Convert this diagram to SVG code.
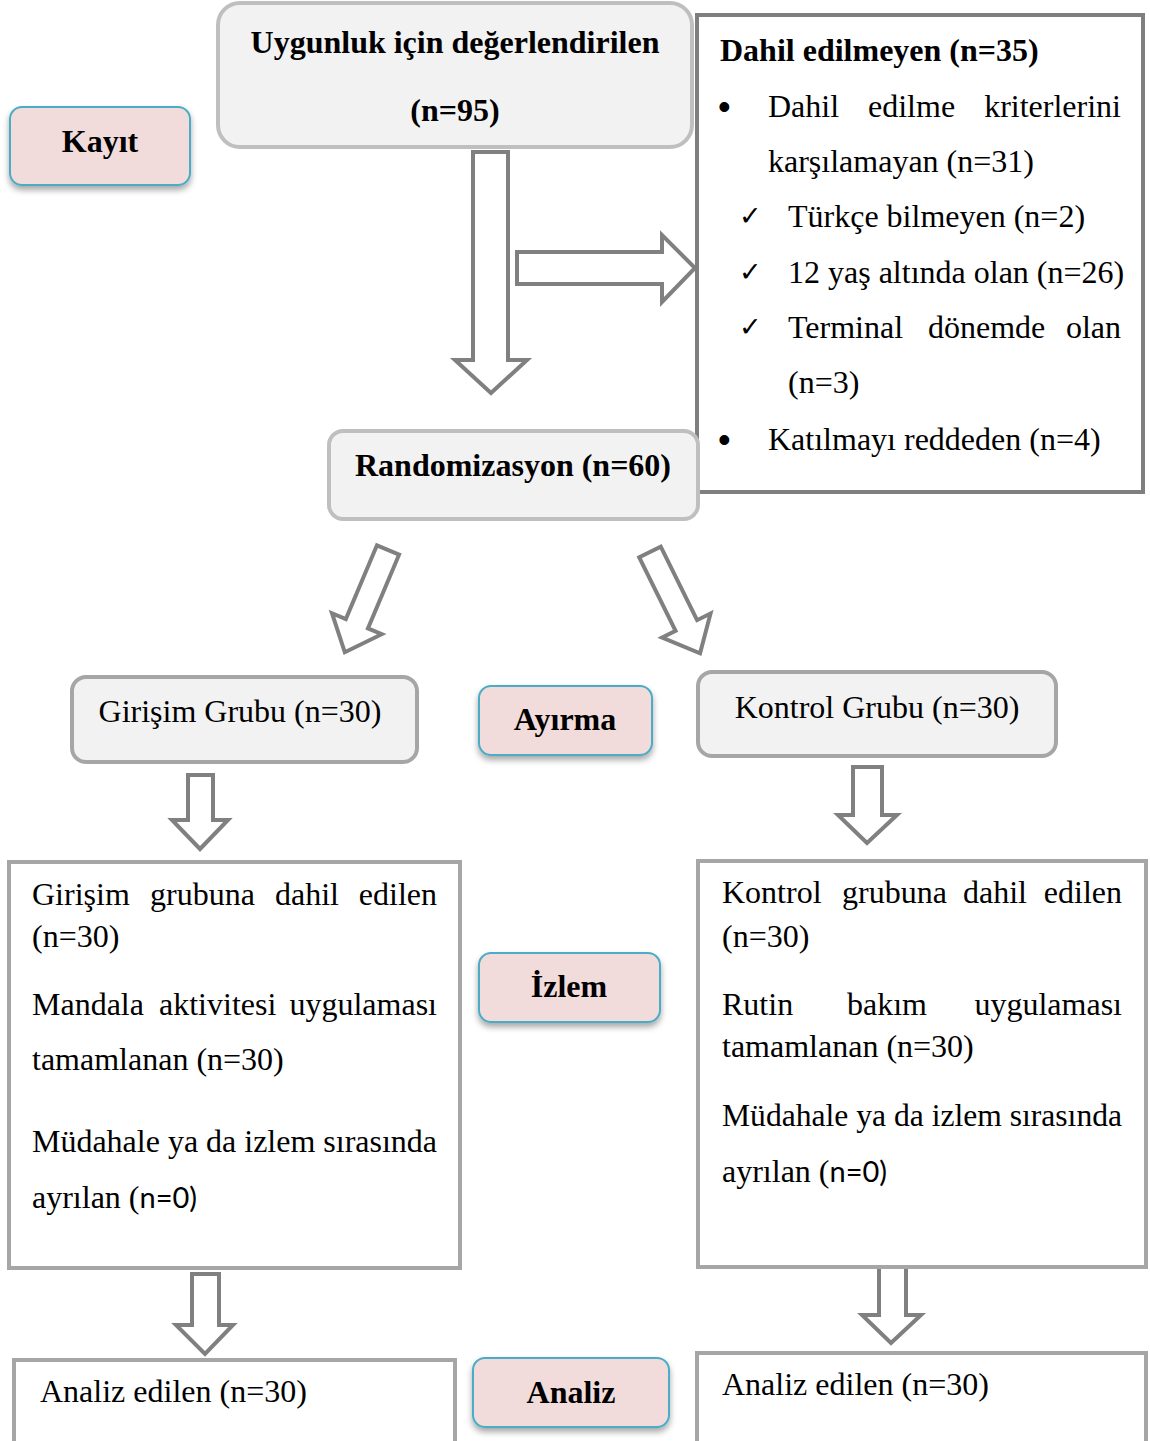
<svg xmlns="http://www.w3.org/2000/svg" width="1150" height="1441" viewBox="0 0 1150 1441">
<defs>
<filter id="sh" x="-20%" y="-20%" width="140%" height="160%">
<feDropShadow dx="0" dy="4" stdDeviation="3" flood-color="#000" flood-opacity="0.35"/>
</filter>
</defs>
<style>
.t{font-family:"Liberation Serif","Times New Roman",serif;font-size:32px;fill:#000}
.b{font-weight:bold}
.m{text-anchor:middle}
.e{text-anchor:end}
.s{font-family:Lato,"Liberation Sans",sans-serif;font-size:29px}
.bu{font-family:"Liberation Sans",sans-serif;font-size:36px}
.ck{font-family:"DejaVu Sans",sans-serif;font-size:27px;font-weight:bold}
.grey{fill:#f2f2f2;stroke-width:4}
.stage{fill:#f2dcdb;stroke:#4bacc6;stroke-width:2;filter:url(#sh)}
.box{fill:#fff;stroke:#a6a6a6;stroke-width:4}
.arr{fill:#fff;stroke:#808080;stroke-width:4;stroke-linejoin:miter}
</style>
<rect width="1150" height="1441" fill="#fff"/>

<g id="connectors">
<path class="arr" d="M473,152 H508 V360 H527 L491,393 L455,360 H473 Z"/>
<path class="arr" d="M517,252 H662 V235 L695,268 L662,302 V284 H517 Z"/>
<path class="arr" transform="translate(388,550) rotate(22.9)" d="M-12,0 H12 V80 H27 L0,111 L-27,80 H-12 Z"/>
<path class="arr" transform="translate(650,552) rotate(-26.3)" d="M-12,0 H12 V82 H27 L0,113 L-27,82 H-12 Z"/>
<path class="arr" d="M188,775 H213 V820 H228 L200,849 L172,820 H188 Z"/>
<path class="arr" d="M853,767 H882 V815 H897 L867,843 L838,815 H853 Z"/>
<path class="arr" d="M192,1274 H219 V1325 H233 L205,1354 L176,1325 H192 Z"/>
<path class="arr" d="M879,1267 H906 V1315 H921 L891,1343 L862,1315 H879 Z"/>
</g>

<g id="kayit">
<rect class="stage" x="10" y="107" width="180" height="78" rx="12"/>
<text class="t b m" x="100" y="152">Kayıt</text>
</g>

<g id="uygunluk">
<rect class="grey" x="218" y="3" width="474" height="144" rx="22" stroke="#bfbfbf"/>
<text class="t b m" x="455" y="53">Uygunluk için değerlendirilen</text>
<text class="t b m" x="455" y="121">(n=95)</text>
</g>

<g id="dahil-edilmeyen">
<rect x="697" y="15" width="446" height="477" fill="#fff" stroke="#7f7f7f" stroke-width="4"/>
<text class="t b" x="720" y="61">Dahil edilmeyen (n=35)</text>
<text class="bu" x="718" y="119">•</text>
<text class="t" x="768" y="117">Dahil</text>
<text class="t" x="868" y="117">edilme</text>
<text class="t e" x="1121" y="117">kriterlerini</text>
<text class="t" x="768" y="172">karşılamayan (n=31)</text>
<text class="ck" x="739" y="225">✓</text>
<text class="t" x="788" y="227">Türkçe bilmeyen (n=2)</text>
<text class="ck" x="739" y="281">✓</text>
<text class="t" x="788" y="283">12 yaş altında olan (n=26)</text>
<text class="ck" x="739" y="336">✓</text>
<text class="t" x="788" y="338">Terminal</text>
<text class="t" x="928" y="338">dönemde</text>
<text class="t e" x="1121" y="338">olan</text>
<text class="t" x="788" y="393">(n=3)</text>
<text class="bu" x="718" y="452">•</text>
<text class="t" x="768" y="450">Katılmayı reddeden (n=4)</text>
</g>

<g id="randomizasyon">
<rect class="grey" x="329" y="431" width="369" height="88" rx="14" stroke="#bfbfbf"/>
<text class="t b m" x="513" y="476">Randomizasyon (n=60)</text>
</g>

<g id="girisim-grubu">
<rect class="grey" x="72" y="677" width="345" height="85" rx="14" stroke="#a6a6a6"/>
<text class="t m" x="240" y="722">Girişim Grubu (n=30)</text>
</g>

<g id="ayirma">
<rect class="stage" x="479" y="686" width="173" height="69" rx="12"/>
<text class="t b m" x="565" y="730">Ayırma</text>
</g>

<g id="kontrol-grubu">
<rect class="grey" x="698" y="672" width="358" height="84" rx="14" stroke="#a6a6a6"/>
<text class="t m" x="877" y="718">Kontrol Grubu (n=30)</text>
</g>

<g id="girisim-izlem">
<rect class="box" x="9" y="862" width="451" height="406"/>
<text class="t" x="32" y="905">Girişim</text>
<text class="t" x="150" y="905">grubuna</text>
<text class="t" x="275" y="905">dahil</text>
<text class="t e" x="437" y="905">edilen</text>
<text class="t" x="32" y="947">(n=30)</text>
<text class="t" x="32" y="1015">Mandala</text>
<text class="t" x="159" y="1015">aktivitesi</text>
<text class="t e" x="437" y="1015">uygulaması</text>
<text class="t" x="32" y="1070">tamamlanan (n=30)</text>
<text class="t" x="32" y="1152" textLength="405" lengthAdjust="spacingAndGlyphs">Müdahale ya da izlem sırasında</text>
<text class="t" x="32" y="1208">ayrılan (<tspan class="s">n=0)</tspan></text>
</g>

<g id="izlem">
<rect class="stage" x="479" y="953" width="181" height="69" rx="12"/>
<text class="t b m" x="569" y="997">İzlem</text>
</g>

<g id="kontrol-izlem">
<rect class="box" x="698" y="861" width="448" height="406"/>
<text class="t" x="722" y="903">Kontrol</text>
<text class="t" x="842" y="903">grubuna</text>
<text class="t" x="963" y="903">dahil</text>
<text class="t e" x="1122" y="903">edilen</text>
<text class="t" x="722" y="947">(n=30)</text>
<text class="t" x="722" y="1015">Rutin</text>
<text class="t" x="847" y="1015">bakım</text>
<text class="t e" x="1122" y="1015">uygulaması</text>
<text class="t" x="722" y="1057">tamamlanan (n=30)</text>
<text class="t" x="722" y="1126" textLength="400" lengthAdjust="spacingAndGlyphs">Müdahale ya da izlem sırasında</text>
<text class="t" x="722" y="1182">ayrılan (<tspan class="s">n=0)</tspan></text>
</g>

<g id="analiz-girisim">
<rect class="box" x="14" y="1360" width="441" height="100"/>
<text class="t" x="40" y="1402">Analiz edilen (n=30)</text>
</g>

<g id="analiz">
<rect class="stage" x="473" y="1358" width="196" height="69" rx="12"/>
<text class="t b m" x="571" y="1403">Analiz</text>
</g>

<g id="analiz-kontrol">
<rect class="box" x="697" y="1353" width="449" height="100"/>
<text class="t" x="722" y="1395">Analiz edilen (n=30)</text>
</g>
</svg>
